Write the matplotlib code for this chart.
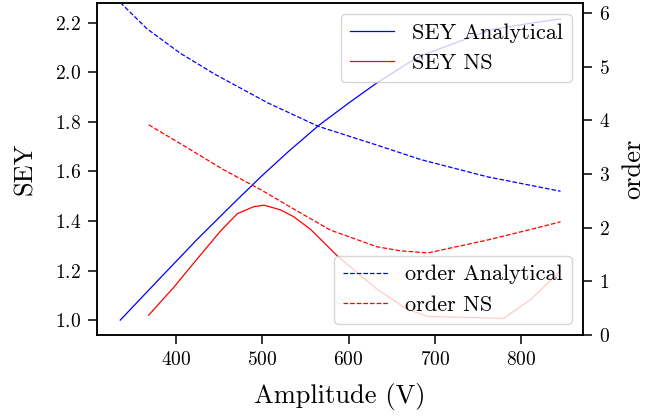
import matplotlib
matplotlib.use("Agg")
import matplotlib.pyplot as plt

plt.rcParams['font.family'] = 'serif'
plt.rcParams['font.serif'] = ['cmr10']
plt.rcParams['mathtext.fontset'] = 'cm'
plt.rcParams['axes.formatter.use_mathtext'] = True
plt.rcParams['xtick.major.size'] = 6.5
plt.rcParams['ytick.major.size'] = 6.5
plt.rcParams['xtick.major.width'] = 1.1
plt.rcParams['ytick.major.width'] = 1.1
plt.rcParams['xtick.major.pad'] = 5
plt.rcParams['ytick.major.pad'] = 5
plt.rcParams['axes.linewidth'] = 1.1

# SEY analytical
x_sey_an = [335, 380, 424, 466, 498, 530, 565, 600, 633, 672, 687, 734, 765, 812, 846]
sey_an = [1.0, 1.165, 1.325, 1.47, 1.578, 1.68, 1.785, 1.876, 1.958, 2.044, 2.071,
          2.132, 2.172, 2.199, 2.216]

# SEY NS
x_sey_ns = [368, 397, 424, 452, 471, 490, 502, 521, 536, 556, 587, 633, 668, 692,
            780, 812, 846]
sey_ns = [1.020, 1.132, 1.246, 1.362, 1.430, 1.458, 1.464, 1.445, 1.418, 1.366,
          1.259, 1.125, 1.044, 1.015, 1.007, 1.085, 1.199]

# order analytical
x_ord_an = [335, 366, 405, 444, 483, 506, 565, 633, 684, 761, 846]
ord_an = [6.20, 5.71, 5.25, 4.87, 4.53, 4.33, 3.89, 3.54, 3.27, 2.95, 2.68]

# order NS
x_ord_ns = [368, 416, 455, 498, 533, 579, 633, 660, 692, 761, 808, 846]
ord_ns = [3.92, 3.46, 3.08, 2.71, 2.38, 1.955, 1.645, 1.57, 1.53, 1.77, 1.955, 2.11]

fig = plt.figure(figsize=(6.67, 4.19), dpi=100)
ax1 = fig.add_subplot(111)
fig.subplots_adjust(left=0.1454, right=0.874, top=0.9928, bottom=0.2005)
ax2 = ax1.twinx()

ax1.plot(x_sey_an, sey_an, color='b', lw=0.9, label='SEY Analytical')
ax1.plot(x_sey_ns, sey_ns, color='r', lw=0.9, label='SEY NS')
ax2.plot(x_ord_an, ord_an, color='b', lw=0.9, ls='--', label='order Analytical')
ax2.plot(x_ord_ns, ord_ns, color='r', lw=0.9, ls='--', label='order NS')

ax1.set_xlim(308, 872)
ax1.set_ylim(0.94, 2.28)
ax2.set_ylim(0, 6.19)
ax1.set_xticks([400, 500, 600, 700, 800])
ax1.set_yticks([1.0, 1.2, 1.4, 1.6, 1.8, 2.0, 2.2])
ax2.set_yticks([0, 1, 2, 3, 4, 5, 6])
for lab in ax1.get_xticklabels() + ax1.get_yticklabels() + ax2.get_yticklabels():
    lab.set_fontsize(14)

ax1.set_xlabel('Amplitude (V)', fontsize=19, labelpad=10)
ax1.set_ylabel('SEY', fontsize=19, labelpad=13)
ax2.set_ylabel('order', fontsize=19, labelpad=8)

ax1.legend(loc='upper right', fontsize=16)
ax2.legend(loc='lower right', fontsize=16)

fig.savefig('out.png', dpi=100)
